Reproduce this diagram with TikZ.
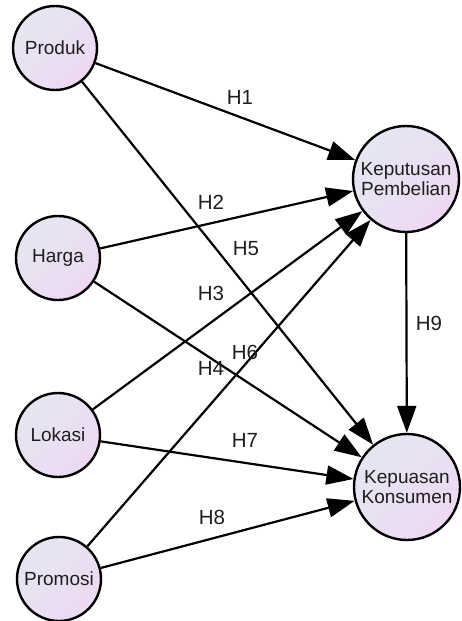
\documentclass[tikz,border=0pt]{standalone}
\usepackage{fontspec}
\setmainfont{Liberation Sans}
\usetikzlibrary{arrows.meta}
\definecolor{circtop}{HTML}{E4E7F2}
\definecolor{circbot}{HTML}{EED9F2}
\definecolor{txtgray}{HTML}{1E1E1E}
\tikzset{
  var/.style={circle, draw, line width=2.4pt, top color=circtop, bottom color=circbot,
    shading angle=45, text=txtgray, inner sep=0pt, align=center,
    font=\fontsize{19}{20.5}\selectfont},
  small/.style={var, minimum size=84pt},
  big/.style={var, minimum size=106pt},
  arr/.style={line width=2.2pt, -{Triangle[length=27pt,width=19pt]}},
  hyp/.style={text=txtgray, font=\fontsize{20.5}{22}\selectfont}
}
\begin{document}
\begin{tikzpicture}[x=1pt,y=-1pt]
\useasboundingbox (0,0) rectangle (461,621);
%variables
\node[small] (produk)  at (55,48)  {Produk};
\node[small] (harga)   at (58,258) {Harga};
\node[small] (lokasi)  at (58,435) {Lokasi};
\node[small] (promosi) at (59,579) {Promosi};
\node[big] (keputusan) at (406,179) {Keputusan\\Pembelian};
\node[big] (kepuasan)  at (407,487) {Kepuasan\\Konsumen};
%paths
\foreach \src in {produk,harga,lokasi,promosi}{
  \draw[arr] (\src) -- (keputusan);
  \draw[arr] (\src) -- (kepuasan);
}
\draw[arr] (keputusan) -- (kepuasan);
%hypothesis labels
\foreach \n/\x/\y in {1/240/97, 2/211/202, 3/211/293, 4/211/368,
                      5/246/249, 6/245/352, 7/245/440, 8/212/517, 9/429/323}{
  \node[hyp] (h\n) at (\x,\y) {H\n};
}
\end{tikzpicture}
\end{document}
